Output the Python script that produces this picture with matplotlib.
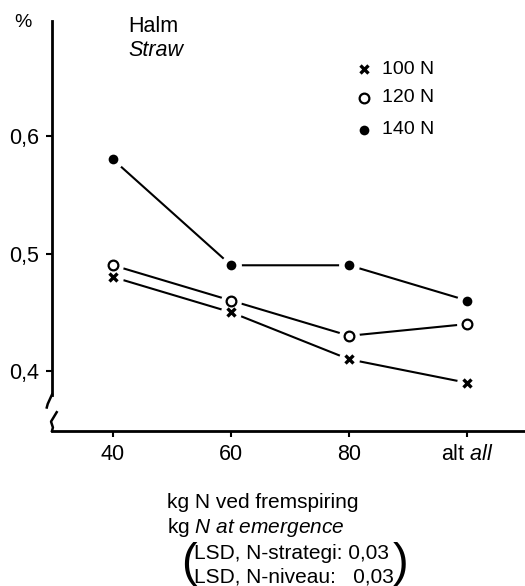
import matplotlib.pyplot as plt

plt.rcParams['font.family'] = ['Liberation Sans', 'DejaVu Sans']
plt.rcParams['mathtext.fontset'] = 'custom'
plt.rcParams['mathtext.rm'] = 'Liberation Sans'
plt.rcParams['mathtext.it'] = 'Liberation Sans:italic'

# === Data ===
categories = ['40', '60', '80', 'alt $\\mathit{all}$']
n100 = [0.48, 0.45, 0.41, 0.39]
n120 = [0.49, 0.46, 0.43, 0.44]
n140 = [0.58, 0.49, 0.49, 0.46]
series_labels = ['100 N', '120 N', '140 N']
yticks = [0.4, 0.5, 0.6]
ytick_labels = ['0,4', '0,5', '0,6']

fig = plt.figure(figsize=(5.25, 5.86), dpi=100)
ax = fig.add_axes([0.099, 0.2645, 0.901, 0.70])

x = list(range(len(categories)))
styles = [
    dict(marker='x', ms=6, mew=2.4, mfc='black', mec='black'),
    dict(marker='o', ms=7, mew=1.6, mfc='white', mec='black'),
    dict(marker='o', ms=7, mew=0, mfc='black', mec='black'),
]
for vals, st in zip([n100, n120, n140], styles):
    ax.plot(x, vals, color='black', lw=1.5, zorder=2)
    # white halo so the lines stop short of the markers
    ax.plot(x, vals, ls='none', marker='o', ms=15, mfc='white', mec='none', zorder=3)
    ax.plot(x, vals, ls='none', zorder=4, **st)

ax.set_xlim(-0.517, 3.49)
ax.set_ylim(0.349, 0.698)
ax.set_xticks(x)
ax.set_xticklabels(categories, fontsize=15.5)
ax.set_yticks(yticks)
ax.set_yticklabels(ytick_labels, fontsize=15.5)
ax.tick_params(direction='out', length=4, width=1.5, pad=5)

for s in ['top', 'right']:
    ax.spines[s].set_visible(False)
ax.spines['left'].set_linewidth(2)
ax.spines['bottom'].set_linewidth(2)
ax.spines['left'].set_bounds(0.38, 0.698)

# axis break marks
ax.plot([0.0, -0.009, -0.011], [0.38, 0.372, 0.369], transform=ax.get_yaxis_transform(),
        color='black', lw=1.8, clip_on=False)
ax.plot([0.010, -0.002, 0.002, 0.0], [0.365, 0.357, 0.352, 0.349],
        transform=ax.get_yaxis_transform(), color='black', lw=1.8, clip_on=False)

# texts
fig.text(0.028, 0.962, '%', fontsize=14, va='center')
ax.text(0.162, 0.985, 'Halm', transform=ax.transAxes, fontsize=15.5, va='center')
ax.text(0.162, 0.927, 'Straw', transform=ax.transAxes, fontsize=15.5, va='center', style='italic')

leg_markers = [
    dict(marker='x', ms=6, mew=2.4, color='black'),
    dict(marker='o', ms=7, mew=1.6, mfc='white', mec='black'),
    dict(marker='o', ms=7, mew=0, mfc='black', mec='black'),
]
leg_y = [0.882, 0.812, 0.734]
for lab, st, yy in zip(series_labels, leg_markers, leg_y):
    ax.plot([0.66], [yy], transform=ax.transAxes, ls='none', **st)
    ax.text(0.698, yy, lab, transform=ax.transAxes, fontsize=14, va='center')

fig.text(0.318, 0.143, 'kg N ved fremspiring', fontsize=15, va='center')
fig.text(0.318, 0.100, 'kg $\\mathit{N\\ at\\ emergence}$', fontsize=15, va='center')
fig.text(0.369, 0.056, 'LSD, N-strategi: 0,03', fontsize=15, va='center')
fig.text(0.369, 0.016, 'LSD, N-niveau:   0,03', fontsize=15, va='center')
fig.text(0.345, 0.037, '(', fontsize=34, va='center', fontweight='light')
fig.text(0.748, 0.037, ')', fontsize=34, va='center', fontweight='light')

fig.savefig('out.png', dpi=100)
